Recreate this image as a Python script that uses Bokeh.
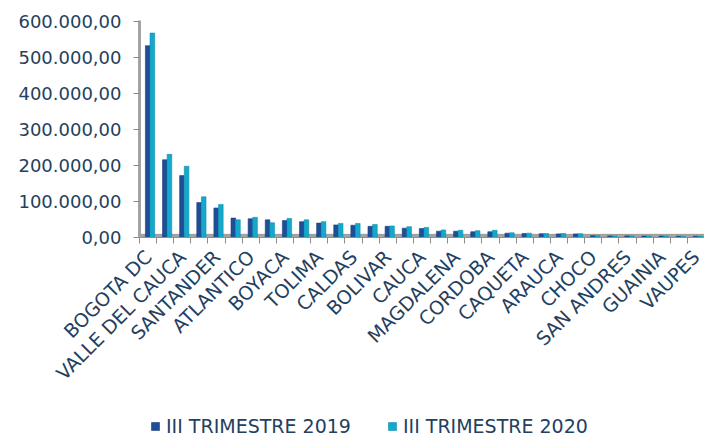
from math import pi
import numpy as np
from bokeh.plotting import figure
from bokeh.layouts import column
from bokeh.models import (ColumnDataSource, FixedTicker, Legend, LegendItem,
                          BoxAnnotation, Range1d)
from bokeh.embed import file_html
from bokeh.resources import INLINE

categories = [
    "BOGOTA DC", "ANTIOQUIA", "VALLE DEL CAUCA", "CUNDINAMARCA", "SANTANDER",
    "META", "ATLANTICO", "RISARALDA", "BOYACA", "NARIÑO", "TOLIMA", "HUILA",
    "CALDAS", "NORTE DE SANTANDER", "BOLIVAR", "QUINDIO", "CAUCA", "CESAR",
    "MAGDALENA", "CASANARE", "CORDOBA", "SUCRE", "CAQUETA", "LA GUAJIRA",
    "ARAUCA", "PUTUMAYO", "CHOCO", "AMAZONAS", "SAN ANDRES", "GUAVIARE",
    "GUAINIA", "VICHADA", "VAUPES",
]
values_2019 = [
    533000, 216000, 172000, 97000, 82000, 54000, 52000, 49000, 47000, 44000,
    40000, 35000, 34000, 31000, 31000, 26000, 25000, 17500, 17500, 16000,
    16000, 12000, 11000, 10500, 10000, 10000, 5000, 4500, 4500, 4000, 4000,
    3500, 3500,
]
values_2020 = [
    568000, 231000, 198000, 113000, 92000, 49000, 56000, 41000, 53000, 49000,
    44000, 39000, 39000, 36000, 32000, 30000, 28000, 21000, 20000, 19000,
    20000, 13000, 12000, 11000, 11000, 10500, 5000, 4500, 4500, 4000, 4000,
    3500, 3500,
]
series_names = ["III TRIMESTRE 2019", "III TRIMESTRE 2020"]
y_ticks = [0, 100000, 200000, 300000, 400000, 500000, 600000]
y_tick_labels = ["0,00", "100.000,00", "200.000,00", "300.000,00",
                 "400.000,00", "500.000,00", "600.000,00"]

TEXT = "#243F60"
DARK = "#1F4E96"
CYAN = "#14A9CC"
GRAY = "#A3A3A3"

n = len(categories)
idx = np.arange(n)
src = ColumnDataSource(dict(
    cat=categories,
    x19=idx - 0.02,
    x20=idx + 0.25,
    v19=values_2019,
    v20=values_2020,
))

p = figure(width=704, height=400, output_backend="svg", toolbar_location=None,
           x_range=Range1d(-0.5, n - 0.5), y_range=Range1d(0, 603000),
           min_border_left=139, min_border_right=0, min_border_top=20,
           min_border_bottom=163)
p.outline_line_color = None
p.grid.visible = False

floor = BoxAnnotation(bottom=0, top=9500, fill_color=GRAY, fill_alpha=1,
                      line_color="#8F8F8F", line_width=1, level="underlay")
p.add_layout(floor)

bar19 = dict(fill_color=DARK, line_color="#173F7C", line_width=0.6)
bar20 = dict(fill_color=CYAN, line_color="#0E8FAE", line_width=0.6)
p.vbar(x="x19", top="v19", width=0.27, source=src, **bar19)
p.vbar(x="x20", top="v20", width=0.27, source=src, **bar20)

# x axis
xa = p.xaxis[0]
xa.ticker = FixedTicker(ticks=list(range(0, n, 2)),
                        minor_ticks=[i - 0.5 for i in range(n + 1)])
xa.major_label_overrides = {i: categories[i] for i in range(0, n, 2)}
xa.major_label_orientation = pi / 4
xa.major_tick_out = 0
xa.major_tick_in = 0
xa.minor_tick_out = 6
xa.minor_tick_in = 0
xa.minor_tick_line_color = "#8C8C8C"
xa.axis_line_color = "#8F8F8F"
xa.major_label_standoff = 10
xa.major_label_text_font = "DejaVu Sans"
xa.major_label_text_font_size = "19px"
xa.major_label_text_color = TEXT

# y axis
ya = p.yaxis[0]
ya.ticker = FixedTicker(ticks=y_ticks)
ya.major_label_overrides = {t: l for t, l in zip(y_ticks, y_tick_labels)}
ya.major_tick_out = 6
ya.major_tick_in = 0
ya.major_tick_line_color = "#8C8C8C"
ya.axis_line_color = GRAY
ya.axis_line_width = 3
ya.major_label_standoff = 12
ya.major_label_text_font = "DejaVu Sans"
ya.major_label_text_font_size = "18px"
ya.major_label_text_color = TEXT

# legend strip (separate figure under the chart, frame aligned with chart)
lg = figure(width=704, height=37, output_backend="svg", toolbar_location=None,
            x_range=Range1d(0, 1), y_range=Range1d(0, 1),
            min_border_left=139, min_border_right=0,
            min_border_top=0, min_border_bottom=0)
lg.axis.visible = False
lg.grid.visible = False
lg.outline_line_color = None
# off-range proxy glyphs: only their legend swatches are visible
proxy = ColumnDataSource(dict(x=[-10], top=[0]))
l19 = lg.vbar(x="x", top="top", width=0.1, source=proxy, **bar19)
l20 = lg.vbar(x="x", top="top", width=0.1, source=proxy, **bar20)

legend = Legend(items=[LegendItem(label=series_names[0], renderers=[l19]),
                       LegendItem(label=series_names[1], renderers=[l20])],
                orientation="horizontal", location=(11, 0),
                glyph_width=10, glyph_height=10, label_standoff=6, spacing=36,
                padding=0, margin=0, border_line_color=None,
                background_fill_alpha=0, label_text_font="DejaVu Sans",
                label_text_font_size="19px", label_text_color=TEXT)
lg.add_layout(legend)

open("out.html", "w").write(file_html(column(p, lg, spacing=0), INLINE))
